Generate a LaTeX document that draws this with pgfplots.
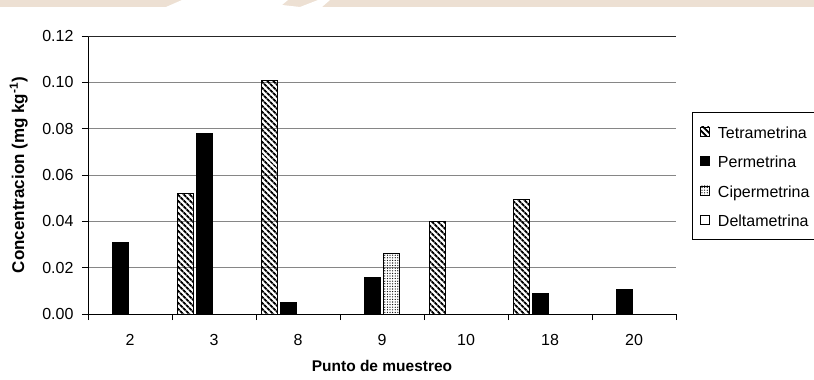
\documentclass[border=0pt]{standalone}
\usepackage{pgfplots}
\pgfplotsset{compat=1.18}
\usepackage{fontspec}
\setmainfont{Liberation Sans}
\usetikzlibrary{patterns.meta}

\definecolor{wmbeige}{RGB}{237,224,211}
\definecolor{gridgray}{RGB}{134,134,134}

\newcommand\lblfont{\fontsize{16}{19}\selectfont}

\tikzset{
  tetra/.style={draw=black, line width=0.7pt,
    pattern={Lines[angle=-45,distance=4pt,line width=2pt]}, pattern color=black},
  perme/.style={draw=black, line width=0.7pt, fill=black},
  ciper/.style={draw=black, line width=0.7pt,
    pattern={Dots[distance=2.6pt,radius=0.65pt]}, pattern color=black},
  delta/.style={draw=black, line width=0.7pt, fill=white},
}
\pgfplotsset{
  legsq/.style={legend image code/.code={%
    \draw[##1, line width=0.6pt] (0pt,-4.5pt) rectangle (9pt,4.5pt);}},
}

% Concentration per sampling point (mg/kg)
\pgfplotstableread{
x  y
1  0.052
2  0.101
4  0.040
5  0.0495
}\tetradata
\pgfplotstableread{
x  y
0  0.031
1  0.078
2  0.005
3  0.0157
5  0.0087
6  0.0105
}\permedata
\pgfplotstableread{
x  y
3  0.026
}\ciperdata

\begin{document}
\begin{tikzpicture}[x=1pt,y=1pt]
\useasboundingbox (0,0) rectangle (814,380);
% faded banner along the top edge
\fill[wmbeige] (0,373) rectangle (814,380);
\fill[white] (166,373) -- (182,380) -- (288,380) -- (282,375) -- (300,373) -- cycle;
\fill[white] (300,373) -- (318,380) -- (330,380) -- (322,373) -- cycle;

\begin{axis}[
  at={(88pt,66pt)}, anchor=south west,
  scale only axis, width=588pt, height=278pt,
  xmin=-0.5, xmax=6.5, ymin=0, ymax=0.12,
  axis lines*=left,
  axis line style={black, line width=0.8pt},
  tick align=outside,
  major tick length=6pt,
  tick style={black, line width=0.7pt},
  xtick={-0.5,0.5,1.5,2.5,3.5,4.5,5.5,6.5},
  xticklabels={},
  extra x ticks={0,1,2,3,4,5,6},
  extra x tick labels={2,3,8,9,10,18,20},
  extra x tick style={major tick length=0pt, grid=none},
  ytick={0,0.02,0.04,0.06,0.08,0.10,0.12},
  extra y ticks={0.12},
  extra y tick labels={},
  extra y tick style={major grid style={black!85, line width=0.8pt}},
  ymajorgrids,
  grid style={gridgray, line width=0.8pt},
  /pgf/number format/assume math mode=true,
  yticklabel style={font=\lblfont, xshift=-5pt,
    /pgf/number format/.cd, fixed, fixed zerofill, precision=2},
  xticklabel style={font=\lblfont, yshift=-17pt},
  xlabel={\textbf{Punto de muestreo}},
  xlabel style={font=\fontsize{15.5}{18}\selectfont, at={(axis description cs:0.5,-0.187)}, anchor=center},
  ylabel={\textbf{Concentracion (mg kg\textsuperscript{-1})}},
  ylabel style={font=\fontsize{17}{20}\selectfont, at={(axis description cs:-0.118,0.5)}, anchor=center},
  legend style={at={(axis description cs:1.0272,0.7266)}, anchor=north west,
    draw=black, line width=0.7pt, font=\lblfont,
    inner xsep=8pt, inner ysep=9pt, row sep=9.5pt,
    nodes={inner sep=0pt, text height=17pt, text depth=3pt}},
  legend cell align=left,
  legend style={/tikz/every odd column/.append style={column sep=8pt}},
]
\addplot[ybar, bar width=16pt, bar shift=-28.5pt, tetra, legsq] table[x=x,y=y] {\tetradata};
\addlegendentry{Tetrametrina}
\addplot[ybar, bar width=16pt, bar shift=-9.5pt, perme, legsq] table[x=x,y=y] {\permedata};
\addlegendentry{Permetrina}
\addplot[ybar, bar width=16pt, bar shift=9.5pt, ciper, legsq] table[x=x,y=y] {\ciperdata};
\addlegendentry{Cipermetrina}
\addlegendimage{delta, legsq}
\addlegendentry{Deltametrina}
\end{axis}
\end{tikzpicture}
\end{document}
